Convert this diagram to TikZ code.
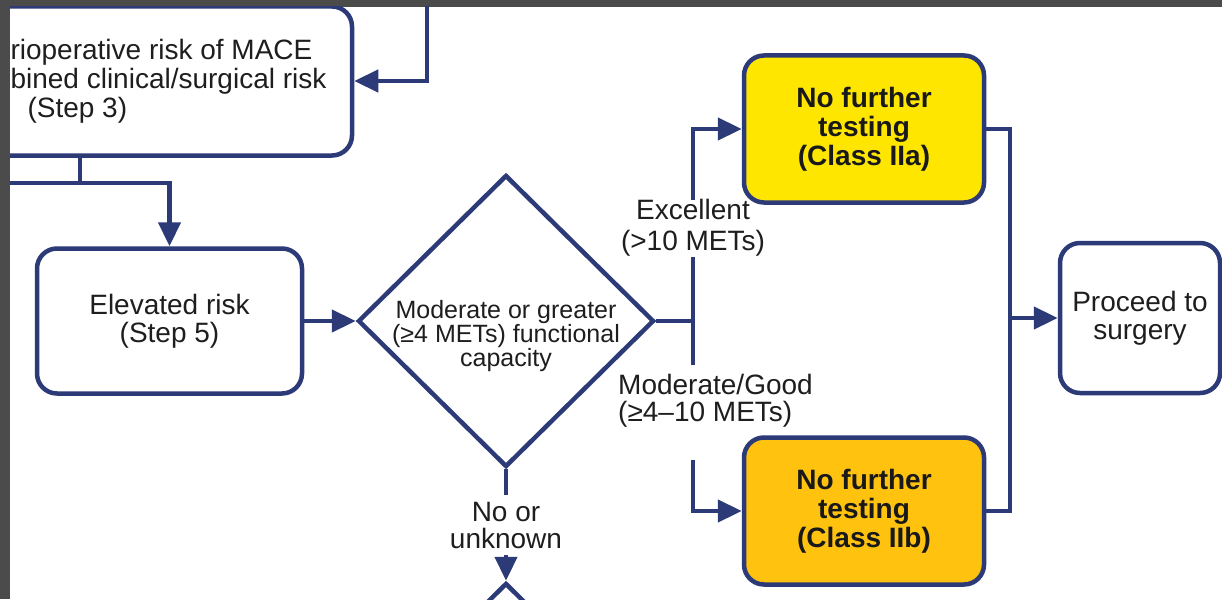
\documentclass[tikz,border=0pt]{standalone}
\usepackage{fontspec}
\setmainfont{Liberation Sans}
\usetikzlibrary{arrows.meta, shapes.geometric, positioning}
\definecolor{navy}{RGB}{44,58,120}
\definecolor{ink}{RGB}{30,30,30}
\definecolor{frame}{RGB}{75,75,75}
\definecolor{yellowa}{RGB}{255,230,0}
\definecolor{ambera}{RGB}{255,194,14}

\begin{document}
\begin{tikzpicture}[x=1pt, y=-1pt, >={Triangle[length=24pt, width=22pt]},
  stepbox/.style={draw=navy, line width=4.5pt, rounded corners=20pt, fill=white,
    text=ink, align=center, font=\fontsize{28}{28}\selectfont},
  testbox/.style={stepbox, font=\bfseries\fontsize{28}{29}\selectfont, text=black!90,
    minimum width=240pt, minimum height=147pt},
  choice/.style={draw=navy, line width=4.5pt, diamond, fill=white,
    minimum width=296pt, minimum height=292pt, inner sep=0pt},
  lbl/.style={text=ink, align=center, inner sep=0pt, font=\fontsize{28}{27}\selectfont},
  link/.style={draw=navy, line width=4.5pt},
  linkarrow/.style={link, ->}]
\useasboundingbox (0,0) rectangle (1222,599);
\fill[frame] (0,0) rectangle (1222,599);
\fill[white] (10,7) rectangle (1222,599);
\clip (10,7) rectangle (1222,599);

\node[stepbox, minimum width=367pt, minimum height=149pt, align=left,
  font=\fontsize{28}{29}\selectfont] (risk) at (168.5,81)
  {rioperative risk of MACE\\bined clinical/surgical risk\\\hspace*{17pt}(Step 3)};
\node[stepbox, minimum width=265pt, minimum height=145pt] (elev) at (169.5,321) {Elevated risk\\(Step 5)};
\node[choice] (capacity) at (506,321) {};
\node[lbl, font=\fontsize{25}{23}\selectfont] (captxt) at (506,336)
  {Moderate or greater\\(≥4 METs) functional\\capacity};
\node[testbox, fill=yellowa] (classa) at (864,129) {No further\\testing\\(Class IIa)};
\node[testbox, fill=ambera] (classb) at (864,511) {No further\\testing\\(Class IIb)};
\node[stepbox, minimum width=160pt, minimum height=150pt] (proceed) at (1140,318) {Proceed to\\surgery};
\node[choice] (nexttest) at (506,729) {};

\node[lbl, font=\fontsize{28}{31}\selectfont] (excl) at (693,228) {Excellent\\(>10 METs)};
\node[lbl, align=left, anchor=west] (modgood) at (618,401) {Moderate/Good\\(≥4–10 METs)};
\node[lbl] (nounk) at (506,525) {No or\\unknown};

\coordinate (offtop) at (427,0);
\coordinate (offleft) at (0,183);
\coordinate (stem) at (80,183);
\coordinate (fork) at (693,321);
\coordinate (gapa) at (693,365);
\coordinate (gapb) at (693,460);
\coordinate (gapc) at (693,257);
\coordinate (gapd) at (693,200);
\coordinate (gape) at (506,495);
\coordinate (gapf) at (506,555);
\coordinate (merge) at (1010,318);

\draw[linkarrow] (offtop) |- (risk.east);
\draw[link] (risk.south -| stem) -- (stem);
\draw[linkarrow] (offleft) -| (elev.north);
\draw[linkarrow] (elev.east) -- (capacity.west);
\draw[link] (capacity.east) -- (fork);
\draw[link] (fork) -- (gapc);
\draw[linkarrow] (gapd) |- (classa.west);
\draw[link] (fork) -- (gapa);
\draw[linkarrow] (gapb) |- (classb.west);
\draw[link] (capacity.south) -- (gape);
\draw[linkarrow] (gapf) -- (nexttest.north);
\draw[link] (classa.east) -| (merge) |- (classb.east);
\draw[linkarrow] (merge) -- (proceed.west);
\end{tikzpicture}
\end{document}
